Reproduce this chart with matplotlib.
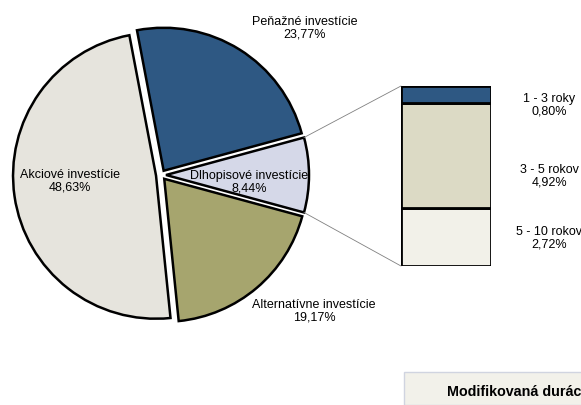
import matplotlib
matplotlib.use("Agg")
import matplotlib.pyplot as plt
from matplotlib.patches import Rectangle, ConnectionPatch
import numpy as np

plt.rcParams['font.family'] = ['Liberation Sans', 'DejaVu Sans']

# data
pie_labels = ["Peňažné investície", "Dlhopisové investície", "Alternatívne investície", "Akciové investície"]
pie_values = [23.77, 8.44, 19.17, 48.63]
pie_value_text = ["23,77%", "8,44%", "19,17%", "48,63%"]
pie_colors = ["#2e5883", "#d5d8e8", "#a6a56e", "#e6e4dd"]

bar_labels = ["5 - 10 rokov", "3 - 5 rokov", "1 - 3 roky"]
bar_values = [2.72, 4.92, 0.80]
bar_value_text = ["2,72%", "4,92%", "0,80%"]
bar_colors = ["#f2f1e9", "#dcdac5", "#2e5883"]

box_title = "Modifikovaná durácia"

W, H = 581, 406
fig = plt.figure(figsize=(W / 100, H / 100), dpi=100)
ax = fig.add_axes([0, 0, 1, 1])


def Y(y):
    return H - y


fs = 9.0
R = 143
cx, cy = 161, Y(176)
start = (pie_values[0] + pie_values[1] / 2) / sum(pie_values) * 360
wedges, _ = ax.pie(pie_values, colors=pie_colors, startangle=start, counterclock=False,
                   explode=[0.035 * R] * 4, radius=R, center=(cx, cy), frame=True,
                   wedgeprops=dict(edgecolor='black', linewidth=1.8))
ax.set_xlim(0, W)
ax.set_ylim(0, H)
ax.set_aspect('equal')
ax.axis('off')

pie_text_pos = [(305, 28), (249, 182), (314, 311), (70, 181)]
for lab, vt, (x, y) in zip(pie_labels, pie_value_text, pie_text_pos):
    ax.text(x, Y(y), f"{lab}\n{vt}", ha='center', va='center', fontsize=fs, linespacing=1.08)

# stacked bar
bx0, bx1, by0, by1 = 401, 491, 87, 267
bax = fig.add_axes([bx0 / W, 1 - by1 / H, (bx1 - bx0) / W, (by1 - by0) / H])
bottom = 0
for v, c in zip(bar_values, bar_colors):
    bax.bar(0, v, bottom=bottom, width=1, color=c, edgecolor='black', linewidth=2.0)
    bottom += v
bax.set_xlim(-0.5, 0.5)
bax.set_ylim(0, sum(bar_values))
bax.axis('off')

bar_text_y = [238, 176, 105]
for lab, vt, y in zip(bar_labels, bar_value_text, bar_text_y):
    ax.text(549, Y(y), f"{lab}\n{vt}", ha='center', va='center', fontsize=fs, linespacing=1.08)

# connection lines from Dlhopisové wedge corners to bar corners
w = wedges[1]
wc = w.center
for ang, yb in [(w.theta2, sum(bar_values)), (w.theta1, 0)]:
    px = wc[0] + w.r * np.cos(np.radians(ang))
    py = wc[1] + w.r * np.sin(np.radians(ang))
    con = ConnectionPatch(xyA=(px, py), coordsA=ax.transData,
                          xyB=(-0.5, yb), coordsB=bax.transData,
                          color='#808080', linewidth=0.6)
    fig.add_artist(con)

# bottom box
ax.add_patch(Rectangle((404, 0), 200, Y(373), facecolor='#f2f1ea', edgecolor='#d0d4e0', linewidth=1))
ax.text(447, Y(392), box_title, ha='left', va='center', fontsize=10.3, fontweight='bold')

fig.savefig("out.png", dpi=100)
